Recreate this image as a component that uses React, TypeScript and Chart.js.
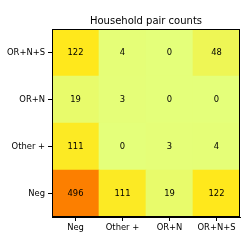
import React, { useEffect, useRef } from "react";
import { Chart, registerables } from "chart.js";

Chart.register(...registerables);

const colLabels = ["Neg", "Other +", "OR+N", "OR+N+S"];
// rows from bottom to top
const rowLabels = ["Neg", "Other +", "OR+N", "OR+N+S"];
const rowNeg = [496, 111, 19, 122];
const rowOther = [111, 0, 3, 4];
const rowORN = [19, 3, 0, 0];
const rowORNS = [122, 4, 0, 48];
const rows = [rowNeg, rowOther, rowORN, rowORNS];
const titleText = "Household pair counts";

// matplotlib Wistia colormap
const wistia: [number, number, number, number][] = [
  [0.0, 0.8941, 1.0, 0.4784],
  [0.25, 1.0, 0.9098, 0.1019],
  [0.5, 1.0, 0.7411, 0.0],
  [0.75, 1.0, 0.6274, 0.0],
  [1.0, 0.9882, 0.498, 0.0],
];
function cmap(t: number): string {
  t = Math.max(0, Math.min(1, t));
  for (let i = 0; i < wistia.length - 1; i++) {
    const a = wistia[i], b = wistia[i + 1];
    if (t <= b[0]) {
      const f = (t - a[0]) / (b[0] - a[0]);
      const c = [1, 2, 3].map((k) => Math.round((a[k] + (b[k] - a[k]) * f) * 255));
      return `rgb(${c[0]},${c[1]},${c[2]})`;
    }
  }
  return "rgb(252,127,0)";
}

const FONT = "'DejaVu Sans', sans-serif";

export default function App() {
  const ref = useRef<HTMLCanvasElement>(null);
  useEffect(() => {
    document.body.style.margin = "0";
    const vmax = Math.max(...rows.flat());
    const vmin = Math.min(...rows.flat());
    const datasets = rows.map((r, i) => ({
      label: rowLabels[i],
      data: r.map(() => 1),
      counts: r,
      backgroundColor: r.map((v) => cmap((v - vmin) / (vmax - vmin))),
      borderWidth: 0,
      barPercentage: 1,
      categoryPercentage: 1,
    }));
    const cellText = {
      id: "cellText",
      afterDatasetsDraw(chart: any) {
        const ctx = chart.ctx;
        ctx.save();
        ctx.font = `8.4px ${FONT}`;
        ctx.fillStyle = "#000";
        ctx.textAlign = "center";
        ctx.textBaseline = "middle";
        chart.data.datasets.forEach((ds: any, di: number) => {
          const meta = chart.getDatasetMeta(di);
          meta.data.forEach((el: any, j: number) => {
            ctx.fillText(String(ds.counts[j]), el.x, (el.y + el.base) / 2);
          });
        });
        const a = chart.chartArea;
        ctx.strokeStyle = "#000";
        ctx.lineWidth = 1;
        ctx.strokeRect(Math.round(a.left) + 0.5, Math.round(a.top) + 0.5, Math.round(a.right - a.left) - 1, Math.round(a.bottom - a.top) - 1);
        ctx.font = `10px ${FONT}`;
        ctx.textBaseline = "alphabetic";
        ctx.fillText(titleText, (a.left + a.right) / 2, a.top - 5);
        ctx.restore();
      },
    };
    const chart = new Chart(ref.current!, {
      type: "bar",
      data: { labels: colLabels, datasets: datasets as any },
      options: {
        animation: false,
        responsive: false,
        events: [],
        layout: { padding: { right: 9, left: 0, top: 29, bottom: 0 } },
        plugins: {
          legend: { display: false },
          tooltip: { enabled: false },
          title: { display: false },
        },
        scales: {
          x: {
            stacked: true,
            offset: true,
            grid: { display: true, drawOnChartArea: false, drawTicks: true, tickLength: 4, color: "#000", offset: false },
            border: { display: true, color: "#000" },
            ticks: { color: "#000", font: { family: FONT, size: 8.4 }, padding: 2, maxRotation: 0, autoSkip: false },
            afterFit: (s: any) => { s.height = 32; },
          },
          y: {
            stacked: true,
            min: 0,
            max: 4,
            grid: { display: true, drawOnChartArea: false, drawTicks: true, tickLength: 4, color: "#000" },
            border: { display: true, color: "#000" },
            afterBuildTicks: (s: any) => {
              s.ticks = rowLabels.map((_, i) => ({ value: i + 0.5 }));
            },
            ticks: {
              color: "#000",
              font: { family: FONT, size: 8.4 },
              padding: 3,
              autoSkip: false,
              callback: (v: any) => rowLabels[Math.floor(Number(v))],
            },
            afterFit: (s: any) => { s.width = 52; },
          },
        },
      },
      plugins: [cellText],
    });
    return () => chart.destroy();
  }, []);
  return (
    <div style={{ position: "fixed", left: 0, top: 0, width: 249, height: 249, background: "#fff" }}>
      <canvas ref={ref} width={249} height={249} style={{ width: 249, height: 249 }} />
    </div>
  );
}
